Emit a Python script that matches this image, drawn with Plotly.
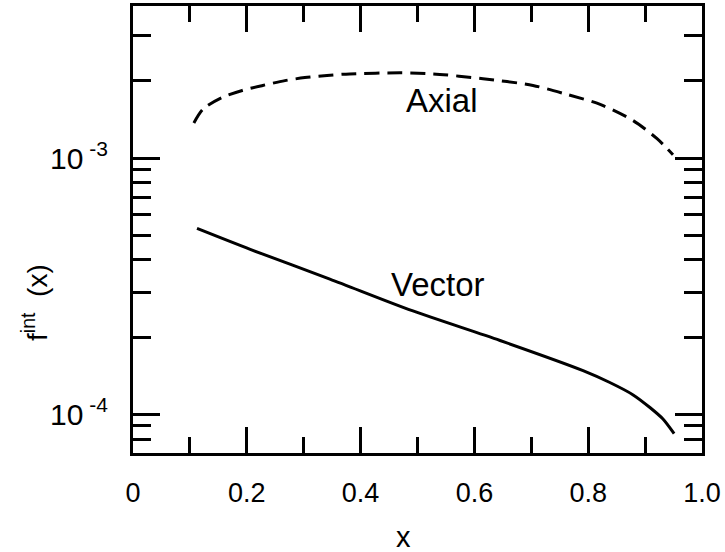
import plotly.graph_objects as go
import numpy as np

# Data
vector_x = [0.1125, 0.206, 0.346, 0.492, 0.645, 0.791, 0.838, 0.879, 0.909, 0.931, 0.951]
vector_y = [5.31e-4, 4.40e-4, 3.37e-4, 2.53e-4, 1.94e-4, 1.48e-4, 1.33e-4, 1.19e-4, 1.06e-4, 9.6e-5, 8.4e-5]

axial_x = [0.107, 0.123, 0.156, 0.192, 0.228, 0.267, 0.302, 0.341, 0.381, 0.469, 0.527, 0.615, 0.703,
           0.763, 0.821, 0.879, 0.921, 0.949]
axial_y = [1.37e-3, 1.55e-3, 1.72e-3, 1.835e-3, 1.92e-3, 2.005e-3, 2.06e-3, 2.10e-3, 2.13e-3, 2.15e-3,
           2.13e-3, 2.04e-3, 1.92e-3, 1.77e-3, 1.62e-3, 1.40e-3, 1.19e-3, 1.03e-3]

x_tickvals = [0, 0.2, 0.4, 0.6, 0.8, 1.0]
x_ticktext = ["0", "0.2", "0.4", "0.6", "0.8", "1.0"]
x_minor = [0.1, 0.3, 0.5, 0.7, 0.9]
y_tickvals = [1e-4, 1e-3]
y_ticktext = ["10<sup> -4</sup>", "10<sup> -3</sup>"]
y_minor = [8e-5, 9e-5, 2e-4, 3e-4, 4e-4, 5e-4, 6e-4, 7e-4, 8e-4, 9e-4, 2e-3, 3e-3]

FONT = "Liberation Sans, Arial, Helvetica, sans-serif"

fig = go.Figure()
fig.add_trace(go.Scatter(x=axial_x, y=axial_y, mode="lines",
                         line=dict(color="black", width=3, dash="15px,8px", shape="spline", smoothing=0.8),
                         showlegend=False))
fig.add_trace(go.Scatter(x=vector_x, y=vector_y, mode="lines",
                         line=dict(color="black", width=3, shape="spline", smoothing=0.8),
                         showlegend=False))

fig.add_annotation(x=0.543, y=-2.775, text="Axial", showarrow=False,
                   font=dict(family=FONT, size=33, color="black"))
fig.add_annotation(x=0.536, y=-3.492, text="Vector", showarrow=False,
                   font=dict(family=FONT, size=33, color="black"))

# axis titles as annotations (positioned like the reference)
fig.add_annotation(xref="paper", yref="paper", x=0.476, y=-0.187, xanchor="center", yanchor="middle",
                   text="x", showarrow=False,
                   font=dict(family=FONT, size=29, color="black"))
fig.add_annotation(xref="paper", yref="paper", x=-0.172, y=0.336, xanchor="center", yanchor="middle",
                   text="f<sup>int</sup>\u00a0\u00a0(x)", textangle=-90, showarrow=False,
                   font=dict(family=FONT, size=28, color="black"))

fig.update_layout(
    width=725, height=552,
    margin=dict(l=133, r=23, t=3, b=99),
    paper_bgcolor="white", plot_bgcolor="white",
    font=dict(family=FONT, color="black"),
)
fig.update_xaxes(
    range=[0, 1], tickmode="array", tickvals=x_tickvals, ticktext=x_ticktext,
    ticks="inside", ticklen=26, tickwidth=2.5, tickcolor="black",
    minor=dict(tickmode="array", tickvals=x_minor, ticks="inside", ticklen=16,
               tickwidth=2.5, tickcolor="black", showgrid=False),
    showline=True, linewidth=3, linecolor="black", mirror="allticks",
    showgrid=False, zeroline=False,
    tickfont=dict(size=27, family=FONT), ticklabelstandoff=14,
)
fig.update_yaxes(
    type="log", range=[np.log10(7.06e-5), np.log10(3.92e-3)],
    tickmode="array", tickvals=y_tickvals, ticktext=y_ticktext,
    ticks="inside", ticklen=27, tickwidth=2.5, tickcolor="black",
    minor=dict(tickmode="array", tickvals=y_minor, ticks="inside", ticklen=18,
               tickwidth=2.5, tickcolor="black", showgrid=False),
    showline=True, linewidth=3, linecolor="black", mirror="allticks",
    showgrid=False, zeroline=False,
    tickfont=dict(size=30, family=FONT), ticklabelstandoff=16,
)

fig.write_html("out.html")
